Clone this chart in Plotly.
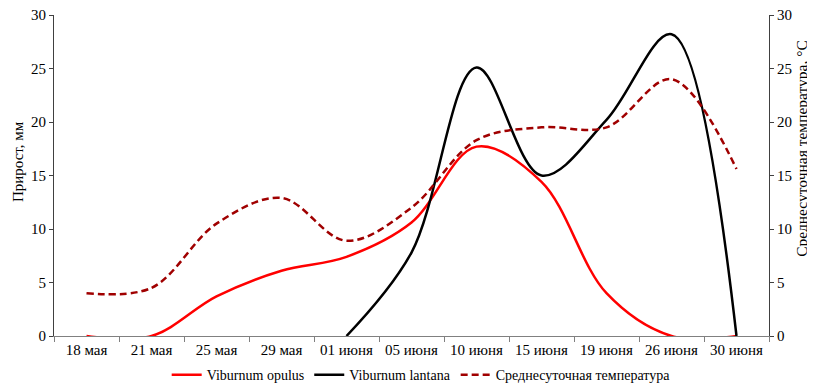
import plotly.graph_objects as go

categories = ["18 мая", "21 мая", "25 мая", "29 мая", "01 июня", "05 июня",
              "10 июня", "15 июня", "19 июня", "26 июня", "30 июня"]
opulus = [0, 0, 3.7, 6.1, 7.4, 10.6, 17.7, 14.4, 4.0, 0, 0]
lantana = [None, None, None, None, 0, 7.8, 25.1, 15.0, 20.2, 28.2, 0]
temperature = [4.0, 4.5, 10.5, 12.9, 8.9, 12.0, 18.3, 19.5, 19.5, 24.0, 15.6]

FONT = "Liberation Serif, Times New Roman, serif"
FS = 15

# page has an 8px body margin; figure sized so the plot lands where the reference's does
W, H = 807, 377
ML, MR, MT, MB = 46, 46, 7, 49
PW = W - ML - MR

fig = go.Figure()
fig.add_trace(go.Scatter(x=categories, y=opulus, name="Viburnum opulus", mode="lines",
                         line=dict(color="#ff0000", width=2.5, shape="spline", smoothing=1)))
fig.add_trace(go.Scatter(x=categories, y=lantana, name="Viburnum lantana", mode="lines",
                         line=dict(color="#000000", width=2.5, shape="spline", smoothing=1),
                         connectgaps=False))
fig.add_trace(go.Scatter(x=categories, y=temperature, name="Среднесуточная температура",
                         mode="lines", yaxis="y2",
                         line=dict(color="#a00000", width=2.5, shape="spline", smoothing=1,
                                   dash="7px,4px")))

fig.update_layout(
    width=W, height=H,
    margin=dict(l=ML, r=MR, t=MT, b=MB, autoexpand=False),
    paper_bgcolor="white", plot_bgcolor="white",
    font=dict(family=FONT, size=FS, color="#000000"),
    showlegend=True,
    legend=dict(orientation="h", xref="container", x=0.512, xanchor="center",
                yref="container", y=0.026, yanchor="middle",
                font=dict(family=FONT, size=14), itemwidth=30, tracegroupgap=0,
                bgcolor="rgba(0,0,0,0)"),
    xaxis=dict(type="category", range=[-0.5, 10.5], tickson="boundaries",
               ticks="outside", ticklen=5, tickcolor="#808080",
               showline=True, linecolor="#808080", linewidth=1,
               showgrid=False, zeroline=False, automargin=False,
               ticklabeloverflow="allow",
               tickfont=dict(family=FONT, size=FS)),
    yaxis=dict(range=[0, 30], dtick=5, ticks="outside", ticklen=4,
               tickcolor="#404040", showline=True, linecolor="#404040",
               showgrid=False, zeroline=False, automargin=False,
               ticklabeloverflow="allow",
               tickfont=dict(family=FONT, size=FS)),
    yaxis2=dict(range=[0, 30], dtick=5, overlaying="y", side="right",
                ticks="outside", ticklen=4, tickcolor="#404040",
                showline=True, linecolor="#404040", showgrid=False, zeroline=False,
                automargin=False, ticklabeloverflow="allow",
                tickfont=dict(family=FONT, size=FS)),
    annotations=[
        dict(text="Прирост, мм", xref="paper", yref="paper", x=(10 - ML) / PW,
             xanchor="center", y=0.542, yanchor="middle", textangle=-90, showarrow=False,
             font=dict(family=FONT, size=FS)),
        dict(text="Среднесуточная температура, °C", xref="paper", yref="paper",
             x=(794 - ML) / PW, xanchor="center", y=0.583, yanchor="middle",
             textangle=-90, showarrow=False, font=dict(family=FONT, size=15.5)),
    ],
)

fig.write_html("out.html")
